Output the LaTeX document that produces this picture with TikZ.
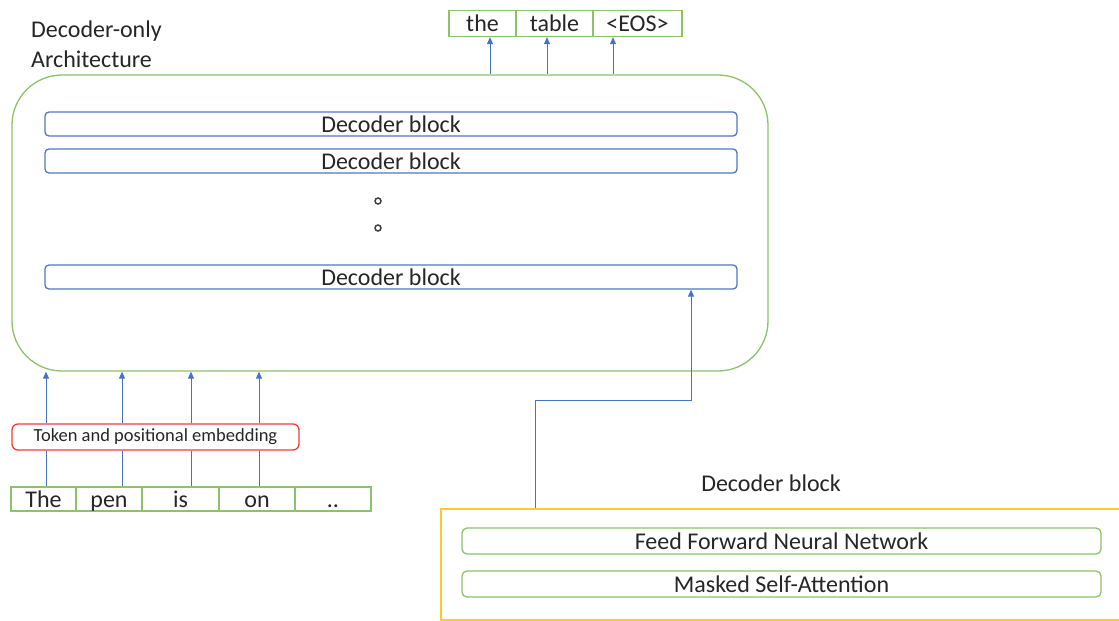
\documentclass[tikz,border=0pt]{standalone}
\usepackage{fontspec}
\setmainfont{Carlito}
\usetikzlibrary{arrows.meta,positioning}

\definecolor{boxgreen}{HTML}{8CC26A}
\definecolor{boxblue}{HTML}{5276C2}
\definecolor{linkblue}{HTML}{4472C4}
\definecolor{boxred}{HTML}{F43A3A}
\definecolor{boxyellow}{HTML}{FFC926}

\tikzset{
  txt/.style={font=\fontsize{24}{30}\selectfont, text=black!85},
  token/.style={txt, draw=boxgreen, line width=1.3pt, inner sep=0pt, minimum height=26,
    text height=19, text depth=3},
  decblock/.style={txt, draw=boxblue, line width=1.3pt, rounded corners=4pt, inner sep=0pt,
    minimum width=692, minimum height=24},
  layer/.style={txt, draw=boxgreen, line width=1.3pt, rounded corners=5pt, inner sep=0pt,
    minimum width=639, minimum height=26},
  dot/.style={circle, draw=black!75, line width=1.5pt, inner sep=0pt, minimum size=6},
  link/.style={draw=linkblue, line width=1pt},
  arr/.style={link, -{Triangle[length=7pt,width=6pt]}}
}

\begin{document}
\begin{tikzpicture}[x=1pt, y=-1pt]
\useasboundingbox (0,0) rectangle (1119,621);

% Outer frame
\node[draw=boxgreen, line width=1.3pt, rounded corners=50pt, minimum width=756,
  minimum height=296, inner sep=0pt] (outer) at (390,223) {};
\node[txt, anchor=north west, align=left, inner sep=0pt] (title) at (31,21)
  {Decoder-only\\Architecture};

% Decoder stack
\node[decblock] (dec1) at (391,124) {Decoder block};
\node[decblock] (dec2) at (391,161) {Decoder block};
\node[dot] (dot1) at (378,201) {};
\node[dot] (dot2) at (378,228) {};
\node[decblock] (dec3) at (391,277) {Decoder block};

% Output tokens
\node[token, minimum width=67] (out1) at (482.5,23.5) {the};
\node[token, minimum width=77] (out2) at (554.5,23.5) {table};
\node[token, minimum width=89] (out3) at (637.5,23.5) {<EOS>};
\foreach \x in {490,547,613}
  \draw[arr] (\x,0 |- outer.north) -- (\x,0 |- out1.south);

% Input tokens
\node[token, minimum width=65, minimum height=24] (in1) at (43.5,499) {The};
\node[token, minimum width=66, minimum height=24] (in2) at (109,499) {pen};
\node[token, minimum width=77, minimum height=24] (in3) at (180.5,499) {is};
\node[token, minimum width=76, minimum height=24] (in4) at (257,499) {on};
\node[token, minimum width=76, minimum height=24] (in5) at (333,499) {..};
\node[draw=boxred, line width=1.3pt, rounded corners=6pt, minimum width=287,
  minimum height=26, inner sep=0pt, font=\fontsize{18.5}{22}\selectfont, text=black!85]
  (emb) at (155.5,437) {Token and positional embedding};
\foreach \x in {46,122,191,259} {
  \draw[link] (\x,0 |- in1.north) -- (\x,0 |- emb.south);
  \draw[arr] (\x,0 |- emb.north) -- (\x,0 |- outer.south);
}

% Decoder block detail
\node[txt] (blkname) at (771,483) {Decoder block};
\node[draw=boxyellow, line width=1.3pt, minimum width=684, minimum height=111,
  inner sep=0pt] (blk) at (783,564.5) {};
\node[layer] (ffnn) at (781.5,541) {Feed Forward Neural Network};
\node[layer] (attn) at (781.5,584) {Masked Self-Attention};
\coordinate (bend) at (691,400);
\draw[arr] (535,0 |- blk.north) |- (bend) -- (bend |- dec3.south);
\end{tikzpicture}
\end{document}
